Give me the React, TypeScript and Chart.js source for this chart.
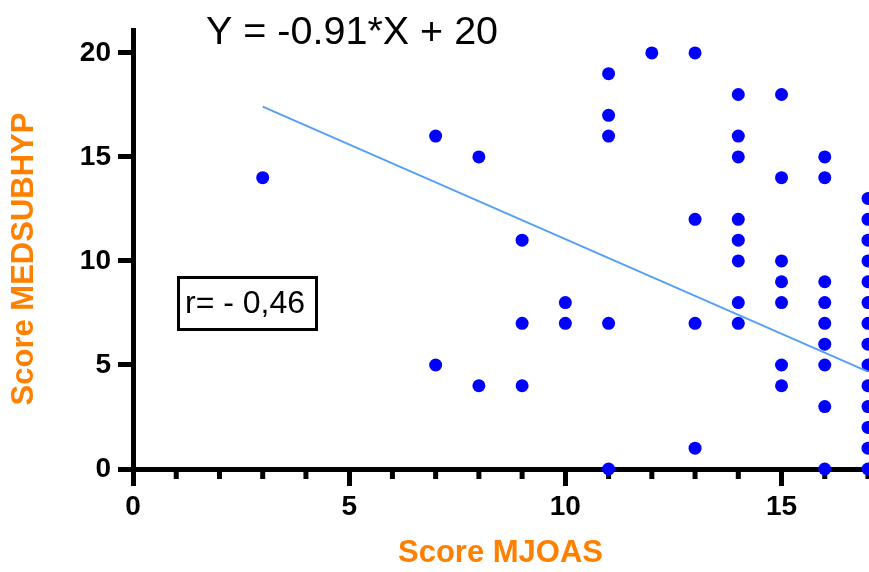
import React, { useEffect, useRef } from 'react';
import { Chart, registerables } from 'chart.js';

Chart.register(...registerables);

// MJOAS score (x) for each subject
const mjoasScores = [
  3,
  7, 7,
  8, 8,
  9, 9, 9,
  10, 10,
  11, 11, 11, 11, 11,
  12,
  13, 13, 13, 13,
  14, 14, 14, 14, 14, 14, 14, 14,
  15, 15, 15, 15, 15, 15, 15,
  16, 16, 16, 16, 16, 16, 16, 16, 16,
  17, 17, 17, 17, 17, 17, 17, 17, 17, 17, 17, 17, 17, 17,
];
// MEDSUBHYP score (y) for each subject
const medsubhypScores = [
  14,
  16, 5,
  15, 4,
  11, 7, 4,
  8, 7,
  19, 17, 16, 7, 0,
  20,
  20, 12, 7, 1,
  18, 16, 15, 12, 11, 10, 8, 7,
  18, 14, 10, 9, 8, 5, 4,
  15, 14, 9, 8, 7, 6, 5, 3, 0,
  13, 12, 11, 10, 9, 8, 7, 6, 5, 4, 3, 2, 1, 0,
];

const xTickValues = [0, 1, 2, 3, 4, 5, 6, 7, 8, 9, 10, 11, 12, 13, 14, 15, 16, 17];
const xLabeledTicks = [0, 5, 10, 15];
const yTickValues = [0, 5, 10, 15, 20];
const xRange = [0, 17];
const yRange = [0, 21.1];

const regressionSlope = -0.91;
const regressionIntercept = 20.15;
const regressionXRange = [3, 17];

const equationLabel = 'Y = -0.91*X + 20';
const correlationLabel = 'r= - 0,46';
const xAxisTitle = 'Score MJOAS';
const yAxisTitle = 'Score MEDSUBHYP';

const FONT = 'Arial, "Liberation Sans", sans-serif';
const ORANGE = '#FF8000';

const extrasPlugin = {
  id: 'extras',
  beforeDatasetsDraw(chart: any) {
    const ctx = chart.ctx;
    const xs = chart.scales.x;
    const bottom = chart.chartArea.bottom;
    ctx.save();
    ctx.strokeStyle = '#000';
    ctx.lineWidth = 5;
    for (const v of xTickValues) {
      if (xLabeledTicks.includes(v)) continue;
      const px = xs.getPixelForValue(v);
      ctx.beginPath();
      ctx.moveTo(px, bottom);
      ctx.lineTo(px, bottom + 10);
      ctx.stroke();
    }
    ctx.restore();
  },
  afterDraw(chart: any) {
    const ctx = chart.ctx;
    ctx.save();
    ctx.fillStyle = '#000';
    ctx.font = `39.5px ${FONT}`;
    ctx.textAlign = 'left';
    ctx.textBaseline = 'middle';
    ctx.fillText(equationLabel, 206, 33);

    ctx.lineWidth = 3;
    ctx.strokeStyle = '#000';
    ctx.strokeRect(178.5, 277.5, 138, 52);
    ctx.font = `32px ${FONT}`;
    ctx.fillText(correlationLabel, 185, 304);

    // y-axis title
    ctx.translate(24, 259);
    ctx.rotate(-Math.PI / 2);
    ctx.textAlign = 'center';
    ctx.fillStyle = ORANGE;
    ctx.font = `bold 31px ${FONT}`;
    ctx.fillText(yAxisTitle, 0, 0);
    ctx.restore();
  },
};

export default function App() {
  const canvasRef = useRef<HTMLCanvasElement | null>(null);

  useEffect(() => {
    if (!canvasRef.current) return;
    const points = mjoasScores.map((x, i) => ({ x, y: medsubhypScores[i] }));
    const line = regressionXRange.map((x) => ({ x, y: regressionSlope * x + regressionIntercept }));

    const chart = new Chart(canvasRef.current, {
      type: 'scatter',
      data: {
        datasets: [
          {
            type: 'line',
            data: line,
            borderColor: 'rgb(85,160,245)',
            borderWidth: 2,
            pointRadius: 0,
            fill: false,
            clip: false as any,
          } as any,
          {
            data: points,
            backgroundColor: '#0000FF',
            borderColor: '#0000FF',
            pointRadius: 6.5,
            borderWidth: 0,
            clip: false as any,
          } as any,
        ],
      },
      options: {
        animation: false,
        responsive: true,
        maintainAspectRatio: false,
        layout: { autoPadding: false, padding: { top: 30, right: 1, left: 0, bottom: 0 } },
        plugins: {
          legend: { display: false },
          tooltip: { enabled: false },
          title: { display: false },
        },
        scales: {
          x: {
            type: 'linear',
            min: xRange[0],
            max: xRange[1],
            afterBuildTicks: (scale: any) => {
              scale.ticks = xTickValues.map((v) => ({ value: v }));
            },
            afterFit: (scale: any) => {
              scale.height = 103;
              scale.paddingLeft = 0;
              scale.paddingRight = 0;
            },
            border: { display: true, color: '#000', width: 5 },
            grid: {
              drawOnChartArea: false,
              drawTicks: true,
              tickLength: 17,
              tickWidth: 5,
              tickColor: (c: any) =>
                c.tick && xLabeledTicks.includes(c.tick.value) ? '#000' : 'rgba(0,0,0,0)',
            },
            ticks: {
              autoSkip: false,
              maxRotation: 0,
              padding: 4,
              color: '#000',
              font: { family: FONT, size: 28, weight: 'bold' },
              callback: (v: any) => (xLabeledTicks.includes(Number(v)) ? String(v) : ''),
            },
            title: {
              display: true,
              text: xAxisTitle,
              color: ORANGE,
              font: { family: FONT, size: 31, weight: 'bold', lineHeight: 1.2 },
              padding: { top: 0, bottom: 0 },
            },
          },
          y: {
            type: 'linear',
            min: yRange[0],
            max: yRange[1],
            afterBuildTicks: (scale: any) => {
              scale.ticks = yTickValues.map((v) => ({ value: v }));
            },
            afterFit: (scale: any) => {
              scale.width = 133;
              scale.paddingTop = 0;
              scale.paddingBottom = 0;
            },
            border: { display: true, color: '#000', width: 5 },
            grid: {
              drawOnChartArea: false,
              drawTicks: true,
              tickLength: 15,
              tickWidth: 5,
              tickColor: '#000',
            },
            ticks: {
              padding: 7,
              color: '#000',
              font: { family: FONT, size: 28, weight: 'bold' },
            },
            title: { display: false },
          },
        },
      },
      plugins: [extrasPlugin],
    } as any);

    return () => chart.destroy();
  }, []);

  return (
    <div style={{ position: 'fixed', left: 0, top: 0, width: 869, height: 572, background: '#fff' }}>
      <canvas ref={canvasRef} />
    </div>
  );
}
